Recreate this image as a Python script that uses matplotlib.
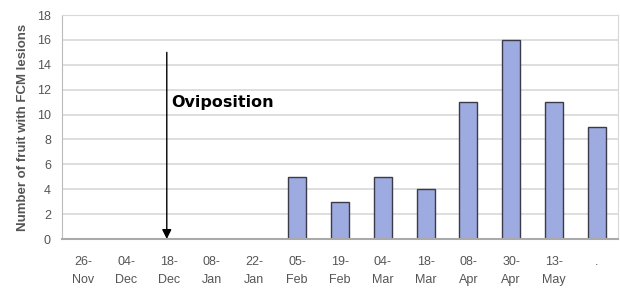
import matplotlib.pyplot as plt
import numpy as np

dates = ["26-\nNov", "04-\nDec", "18-\nDec", "08-\nJan", "22-\nJan", "05-\nFeb",
         "19-\nFeb", "04-\nMar", "18-\nMar", "08-\nApr", "30-\nApr", "13-\nMay", "."]
lesions = [0, 0, 0, 0, 0, 5, 3, 5, 4, 11, 16, 11, 9]

fig = plt.figure(figsize=(6.2, 2.91), dpi=100)
ax = fig.add_axes([62 / 620, 52 / 291, 556 / 620, 224 / 291])

x = np.arange(len(dates))
ax.bar(x, lesions, width=0.42, color="#9dabe0", edgecolor="#3a3a48",
       linewidth=1.0, zorder=3)

ax.set_xlim(-0.5, len(dates) - 0.5)
ax.set_ylim(0, 18)
ax.set_yticks(np.arange(0, 19, 2))
ax.set_xticks(x)
ax.set_xticklabels(dates, fontsize=9, color="#555555", family="Liberation Sans",
                   linespacing=1.7)
ax.tick_params(axis="y", labelsize=9, labelcolor="#555555", length=0, pad=8)
ax.tick_params(axis="x", length=0, pad=12)
for lab in ax.get_yticklabels():
    lab.set_family("Liberation Sans")

ax.grid(axis="y", color="#d8d8d8", linewidth=1.2, zorder=0)
for side in ["top", "right"]:
    ax.spines[side].set_color("#d8d8d8")
ax.spines["left"].set_color("#bbbbbb")
ax.spines["bottom"].set_color("#aaaaaa")
ax.spines["bottom"].set_linewidth(1.5)
ax.spines["bottom"].set_zorder(4)

ax.set_ylabel("Number of fruit with FCM lesions", fontsize=9.5, fontweight="bold",
              color="#555555", family="Liberation Sans", labelpad=6)

ax.annotate("", xy=(1.95, 0), xytext=(1.95, 15),
            arrowprops=dict(arrowstyle="-|>", color="black", lw=1.0,
                            mutation_scale=14, shrinkA=0, shrinkB=0))
ax.text(2.05, 11, "Oviposition", fontsize=11.5, fontweight="bold", va="center",
        ha="left", family="DejaVu Sans")

fig.savefig("out.png", dpi=100)
